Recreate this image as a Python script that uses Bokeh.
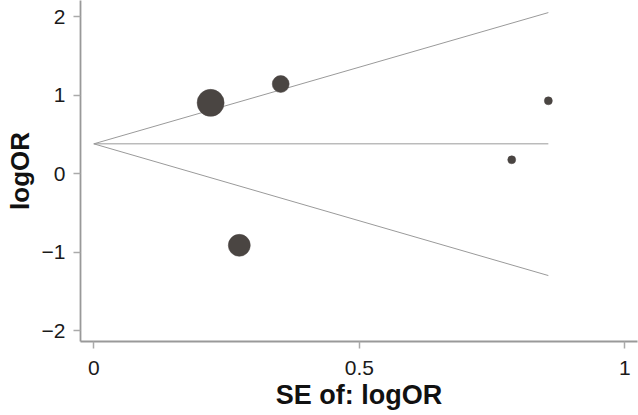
from bokeh.plotting import figure
from bokeh.models import Range1d, FixedTicker
from bokeh.embed import file_html
from bokeh.resources import INLINE
import math

# Study data (SE of logOR, logOR, relative weight)
se = [0.220, 0.352, 0.274, 0.787, 0.856]
log_or = [0.90, 1.14, -0.915, 0.175, 0.926]
weights = [16.0, 6.3, 10.6, 1.4, 1.4]

# Funnel (pooled estimate and pseudo-confidence limits)
pooled = 0.378
se_max = 0.856
upper_end = 2.05
lower_end = -1.30

x_ticks = [0, 0.5, 1]
y_ticks = [-2, -1, 0, 1, 2]

p = figure(width=638, height=415, output_backend="svg", toolbar_location=None,
           x_range=Range1d(-0.02505, 1.0239), y_range=Range1d(-2.140, 2.204),
           min_border_left=80, min_border_right=1, min_border_top=0, min_border_bottom=74)
p.outline_line_color = None
p.grid.visible = False
p.background_fill_color = "white"

line_col = "#9a9a9a"
p.line([0, se_max], [pooled, upper_end], line_color=line_col, line_width=1)
p.line([0, se_max], [pooled, lower_end], line_color=line_col, line_width=1)
p.line([0, se_max], [pooled, pooled], line_color=line_col, line_width=1)

sizes = [6.75 * math.sqrt(w) for w in weights]
p.scatter(se, log_or, size=sizes, fill_color="#4a4542", line_color="#4a4542", line_width=0.5)

for ax in (p.xaxis[0], p.yaxis[0]):
    ax.axis_line_color = "#999999"
    ax.axis_line_width = 1.8
    ax.major_tick_line_color = "#aaaaaa"
    ax.major_tick_line_width = 1.5
    ax.major_tick_out = 7
    ax.major_tick_in = 0
    ax.minor_tick_line_color = None
    ax.major_label_text_font = "Liberation Sans"
    ax.major_label_text_font_size = "21px"
    ax.major_label_text_color = "#1a1a1a"
    ax.axis_label_text_font = "Liberation Sans"
    ax.axis_label_text_font_style = "bold"
    ax.axis_label_text_color = "#111111"

p.xaxis.ticker = FixedTicker(ticks=x_ticks)
p.yaxis.ticker = FixedTicker(ticks=y_ticks)
p.xaxis.major_label_overrides = {0: "0", 0.5: "0.5", 1: "1"}
p.yaxis.major_label_overrides = {t: str(t).replace("-", "\u2212") for t in y_ticks}
p.xaxis.axis_label = "SE of: logOR"
p.yaxis.axis_label = "logOR"
p.xaxis.axis_label_text_font_size = "27px"
p.yaxis.axis_label_text_font_size = "26px"
p.yaxis.axis_label_text_line_height = 0.8
p.xaxis.major_label_standoff = 12
p.xaxis.axis_label_standoff = 2
p.yaxis.major_label_standoff = 8
p.yaxis.axis_label_standoff = 4

open("out.html", "w").write(file_html(p, INLINE))
